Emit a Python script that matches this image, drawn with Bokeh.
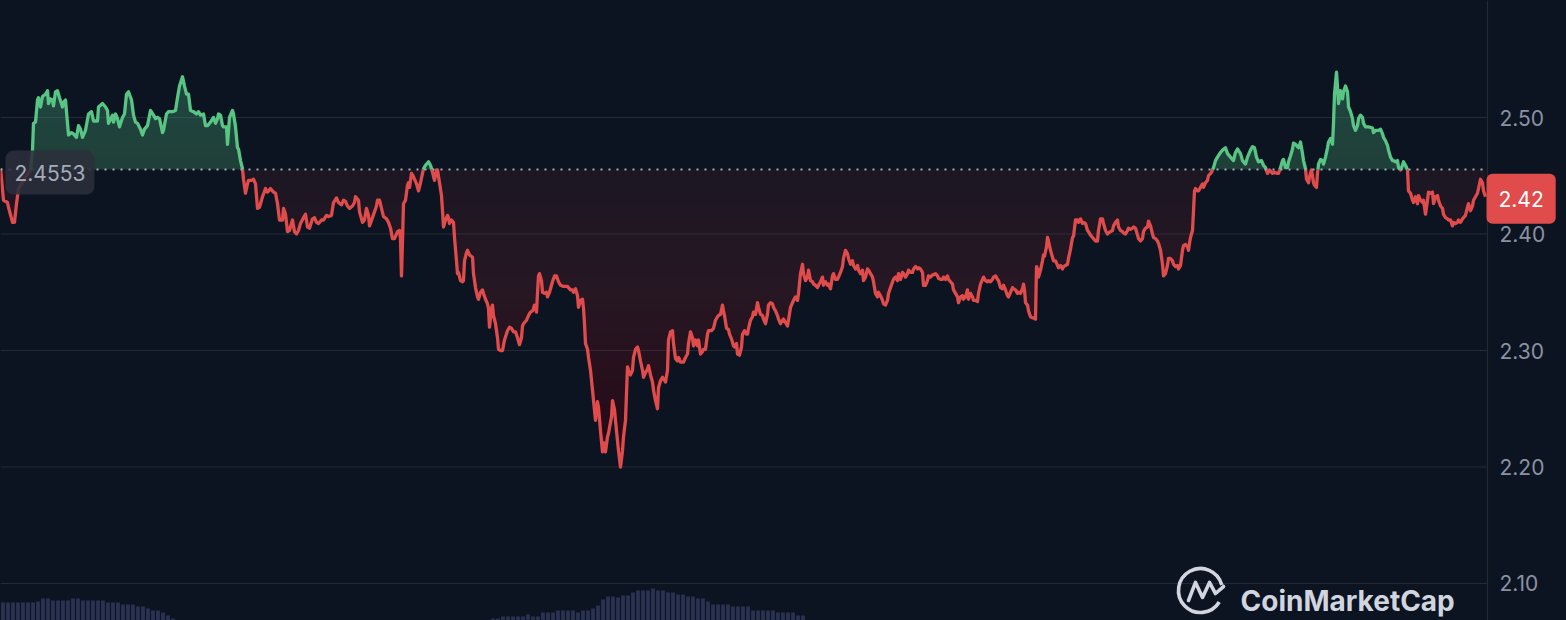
import numpy as np
from bokeh.plotting import figure
from bokeh.models import Range1d, Span, Label
from bokeh.core.properties import value
from bokeh.embed import file_html
from bokeh.resources import INLINE

# ---------------- data ----------------
BASE_PRICE = 2.4553
BASE_TEXT = "2.4553"
LAST_TEXT = "2.42"
Y_TICKS = [2.10, 2.20, 2.30, 2.40, 2.50]
BRAND = "CoinMarketCap"

TIME = [
    0, 3, 7, 8, 12, 14, 16, 18, 21, 23, 30, 32, 33, 35, 37, 38, 40, 42, 45, 47,
    48, 50, 52, 53, 55, 57, 59, 62, 63, 65, 67, 68, 71, 73, 76, 78, 80, 82, 85, 88,
    91, 93, 97, 98, 102, 105, 107, 108, 112, 113, 115, 117, 119, 122, 124, 126, 128, 131, 133, 135,
    137, 140, 142, 144, 147, 150, 153, 155, 157, 159, 162, 163, 166, 168, 172, 175, 177, 179, 182, 184,
    186, 188, 190, 193, 196, 198, 200, 203, 205, 207, 210, 213, 215, 217, 218, 220, 222, 223, 226, 227,
    229, 232, 233, 235, 237, 238, 240, 242, 243, 245, 247, 248, 251, 253, 255, 257, 259, 262, 265, 267,
    270, 273, 275, 277, 279, 282, 283, 285, 287, 289, 292, 294, 296,
    298, 300, 303, 305, 307, 309, 312, 314, 316, 318, 321, 323, 326, 328, 331, 333, 336, 338, 341, 343,
    345, 347, 349, 352, 354, 355, 358, 359, 362, 364, 366, 368, 369, 372, 374, 376, 377, 379, 381, 383,
    386, 388, 390, 392, 394, 397, 399, 400, 401, 402, 403, 405, 407, 408, 409, 411, 413, 416, 418, 420,
    422, 423, 425, 428, 430, 432, 434, 436, 437, 439, 441, 442, 443, 445, 447, 448, 449, 451, 453, 454,
    456, 457, 458, 460, 462, 463, 464, 466, 467, 469, 472, 473, 475, 477, 478, 480, 482, 483, 485, 487,
    488, 489, 491, 492, 493, 495, 497, 498, 500, 502, 504, 507, 509, 511, 513, 515, 517, 519, 521, 522,
    523, 526, 528, 530, 532, 533, 534, 536, 537, 538, 539, 541, 542, 544, 546, 547, 549, 552, 554, 556,
    558, 560, 563, 567, 568, 570, 572, 573, 575, 577, 578, 580, 582, 583, 584, 585, 587, 588, 590, 592,
    595, 597, 598, 600, 602, 603, 605, 607, 608, 611, 612, 614, 616, 618, 620, 622, 623, 625, 627, 628,
    630, 632, 633, 635, 637, 638, 640, 642, 643, 645, 647, 648, 650, 652, 653, 655, 657, 658, 660, 662,
    663, 665, 667, 668, 670, 672, 673, 675, 677, 678, 680, 683, 685, 687, 688, 690, 692, 693, 695, 697,
    698, 700, 702, 703, 705, 707, 708, 711, 713, 715, 717, 718, 720, 722, 723, 724, 726, 728, 729, 731,
    733, 734, 736, 737, 739, 741, 742, 744, 746, 747, 748, 750, 752, 753, 755, 757, 758, 760, 762, 763,
    765, 767, 768, 770, 772, 773, 775, 777, 778, 780, 782, 783, 785, 787, 788, 790, 792, 793, 795, 797,
    798, 800, 802, 803, 805, 807, 808, 810, 812, 813, 815, 817, 818, 820, 822, 823, 825, 827, 828, 830,
    832, 833, 835, 837, 838, 840, 842, 843, 845, 847, 848, 850, 852, 853, 855, 857, 858, 860, 862, 863,
    865, 867, 868, 870, 872, 873, 875, 877, 878, 880, 882, 883, 885, 887, 888, 890,
    893, 895, 897, 898, 900, 902, 903, 905, 907, 908, 910, 912, 913, 915, 917, 918, 920, 922, 923, 925,
    927, 928, 930, 932, 933, 935, 937, 938, 940, 942, 943, 945, 947, 948, 950, 952, 953, 955, 957, 958,
    960, 962, 963, 965, 967, 968, 970, 972, 973, 975, 977, 978, 980, 982, 983, 985, 987, 988, 990, 992,
    993, 995, 997, 998, 1000, 1002, 1003, 1005, 1007, 1008, 1010, 1012, 1013, 1015, 1017, 1018, 1020, 1022, 1023, 1024,
    1025, 1027, 1028, 1030, 1032, 1033, 1035, 1036, 1037, 1038, 1040, 1042, 1043, 1044, 1046, 1047, 1048, 1050, 1052, 1053,
    1055, 1057, 1058, 1060, 1062, 1063, 1065, 1067, 1068, 1070, 1072, 1073, 1075, 1077, 1078, 1080, 1082, 1083, 1085, 1087,
    1088, 1090, 1092, 1093, 1095, 1097, 1098, 1100, 1102, 1103, 1105, 1107, 1108, 1110, 1112, 1113, 1115, 1117, 1118, 1120,
    1122, 1123, 1125, 1127, 1128, 1130, 1132, 1133, 1135, 1137, 1138, 1140, 1142, 1143, 1145, 1147, 1148, 1150, 1152, 1153,
    1155, 1157, 1158, 1160, 1162, 1163, 1165, 1167, 1168, 1170, 1172, 1173, 1175, 1177, 1178, 1180, 1182, 1183, 1185, 1187,
    1188, 1189, 1190, 1192,
    1194, 1195, 1197, 1198, 1200, 1202, 1203, 1205, 1207, 1208, 1211, 1213, 1215, 1217, 1220, 1222, 1225, 1227, 1230, 1233,
    1235, 1237, 1240, 1242, 1245, 1247, 1250, 1252, 1254, 1256, 1258, 1261, 1263, 1265, 1267, 1269, 1272, 1274, 1277, 1278,
    1280, 1282, 1283, 1285, 1287, 1288, 1290, 1292, 1293, 1295, 1297, 1298, 1300, 1302, 1303, 1305, 1306, 1308, 1309, 1311,
    1313, 1314, 1316, 1317, 1318, 1320, 1322, 1323, 1325, 1327, 1328, 1330, 1332, 1333, 1334, 1336, 1337, 1338, 1340, 1342,
    1343, 1345, 1347, 1348, 1350, 1352, 1353, 1355, 1357, 1358, 1360, 1362, 1363, 1365, 1368, 1372, 1373, 1375, 1377, 1378,
    1380, 1382, 1383, 1385, 1387, 1388, 1390, 1392, 1393, 1395, 1397, 1398, 1400, 1402, 1403, 1405, 1407, 1408, 1410, 1412,
    1413, 1415, 1417, 1418, 1420, 1422, 1423, 1425, 1427, 1428, 1430, 1432, 1433, 1435, 1437, 1438, 1440, 1442, 1443, 1445,
    1447, 1448, 1450, 1452, 1453, 1455, 1457, 1458, 1460, 1462, 1463, 1465, 1467, 1468, 1470, 1472, 1473, 1475, 1477, 1478,
    1480, 1482, 1483, 1485,
]

PRICE = [
    2.456, 2.429, 2.427, 2.423, 2.410, 2.410, 2.426, 2.439, 2.443, 2.446,
    2.455, 2.472, 2.495, 2.496, 2.515, 2.517, 2.509, 2.518, 2.520, 2.523,
    2.512, 2.516, 2.515, 2.510, 2.522, 2.523, 2.517, 2.509, 2.513, 2.515,
    2.495, 2.485, 2.487, 2.486, 2.483, 2.493, 2.490, 2.483, 2.489, 2.503,
    2.505, 2.497, 2.497, 2.509, 2.512, 2.509, 2.506, 2.495, 2.502, 2.496,
    2.503, 2.499, 2.492, 2.500, 2.503, 2.520, 2.522, 2.515, 2.502, 2.496,
    2.495, 2.490, 2.485, 2.490, 2.493, 2.506, 2.502, 2.499, 2.500, 2.499,
    2.487, 2.489, 2.503, 2.505, 2.505, 2.506, 2.517, 2.527, 2.535, 2.527,
    2.520, 2.520, 2.506, 2.505, 2.503, 2.505, 2.502, 2.503, 2.493, 2.493,
    2.496, 2.500, 2.495, 2.499, 2.503, 2.502, 2.493, 2.492, 2.492, 2.477,
    2.500, 2.506, 2.503, 2.492, 2.474, 2.473, 2.463, 2.456, 2.447, 2.435,
    2.443, 2.446, 2.446, 2.447, 2.443, 2.422, 2.423, 2.432, 2.439, 2.436,
    2.439, 2.436, 2.435, 2.426, 2.412, 2.412, 2.422, 2.417, 2.402, 2.403,
    2.412, 2.402, 2.400,
    2.403, 2.409, 2.414, 2.417, 2.406, 2.405, 2.413, 2.414, 2.410, 2.409,
    2.412, 2.412, 2.416, 2.415, 2.416, 2.427, 2.431, 2.427, 2.425, 2.429,
    2.428, 2.424, 2.422, 2.424, 2.427, 2.432, 2.429, 2.419, 2.410, 2.412,
    2.422, 2.416, 2.407, 2.414, 2.419, 2.424, 2.429, 2.429, 2.422, 2.415,
    2.413, 2.410, 2.405, 2.396, 2.396, 2.402, 2.403, 2.396, 2.364, 2.394,
    2.426, 2.429, 2.442, 2.444, 2.440, 2.452, 2.449, 2.443, 2.437, 2.444,
    2.452, 2.456, 2.459, 2.462, 2.459, 2.453, 2.446, 2.455, 2.455, 2.444,
    2.433, 2.420, 2.406, 2.412, 2.416, 2.414, 2.409, 2.412, 2.410, 2.397,
    2.377, 2.366, 2.367, 2.360, 2.359, 2.360, 2.377, 2.384, 2.386, 2.382,
    2.380, 2.366, 2.354, 2.346, 2.344, 2.350, 2.352, 2.349, 2.344, 2.340,
    2.336, 2.320, 2.336, 2.339, 2.330, 2.323, 2.311, 2.301, 2.300, 2.300,
    2.309, 2.317, 2.320, 2.319, 2.316, 2.316, 2.311, 2.305, 2.311, 2.321,
    2.323, 2.326, 2.330, 2.333, 2.334, 2.336, 2.339, 2.333, 2.349, 2.364,
    2.366, 2.360, 2.350, 2.349, 2.350, 2.346, 2.350, 2.359, 2.364, 2.364,
    2.359, 2.356, 2.355, 2.355, 2.354, 2.352, 2.352, 2.350, 2.353, 2.347,
    2.337, 2.343, 2.344, 2.336, 2.323, 2.306, 2.301, 2.294, 2.283, 2.266,
    2.240, 2.256, 2.251, 2.231, 2.213, 2.221, 2.213, 2.226, 2.229, 2.243,
    2.257, 2.249, 2.231, 2.214, 2.200, 2.214, 2.226, 2.240, 2.286, 2.283,
    2.279, 2.283, 2.294, 2.301, 2.303, 2.300, 2.291, 2.283, 2.277, 2.281,
    2.284, 2.287, 2.279, 2.273, 2.266, 2.257, 2.250, 2.268, 2.274, 2.277,
    2.276, 2.273, 2.283, 2.309, 2.316, 2.317, 2.306, 2.293, 2.291, 2.294,
    2.290, 2.290, 2.294, 2.297, 2.306, 2.316, 2.311, 2.304, 2.309, 2.304,
    2.309, 2.297, 2.299, 2.301, 2.301, 2.314, 2.317, 2.317, 2.319, 2.326,
    2.329, 2.330, 2.331, 2.339, 2.334, 2.330, 2.319, 2.318, 2.314, 2.310,
    2.304, 2.303, 2.306, 2.297, 2.296, 2.303, 2.314, 2.317, 2.314, 2.314,
    2.319, 2.326, 2.329, 2.333, 2.331, 2.341, 2.337, 2.331, 2.330, 2.327,
    2.323, 2.331, 2.339, 2.341, 2.340, 2.337, 2.334, 2.330, 2.327, 2.323,
    2.326, 2.327, 2.324, 2.321, 2.326, 2.337, 2.341, 2.343, 2.346, 2.343,
    2.349, 2.366, 2.374, 2.366, 2.360, 2.363, 2.369, 2.360, 2.359, 2.357,
    2.356, 2.354, 2.356, 2.359, 2.363, 2.356, 2.359, 2.356, 2.357, 2.353,
    2.364, 2.366, 2.361, 2.361, 2.363, 2.367, 2.372, 2.379, 2.386, 2.383,
    2.379, 2.374, 2.377, 2.373, 2.370, 2.373, 2.369, 2.366, 2.369, 2.360,
    2.363, 2.370, 2.369, 2.366, 2.363, 2.359, 2.349, 2.346, 2.350, 2.347,
    2.343, 2.340, 2.339, 2.343, 2.349, 2.354,
    2.361, 2.363, 2.360, 2.366, 2.361, 2.367, 2.366, 2.363, 2.366, 2.369,
    2.367, 2.367, 2.370, 2.372, 2.370, 2.371, 2.370, 2.367, 2.356, 2.356,
    2.360, 2.364, 2.363, 2.365, 2.365, 2.366, 2.364, 2.362, 2.361, 2.361,
    2.363, 2.361, 2.364, 2.361, 2.359, 2.357, 2.352, 2.349, 2.346, 2.341,
    2.346, 2.347, 2.344, 2.346, 2.352, 2.344, 2.349, 2.346, 2.343, 2.343,
    2.342, 2.349, 2.357, 2.361, 2.363, 2.360, 2.359, 2.360, 2.359, 2.361,
    2.363, 2.364, 2.361, 2.360, 2.354, 2.353, 2.356, 2.352, 2.347, 2.346,
    2.350, 2.354, 2.353, 2.352, 2.349, 2.350, 2.349, 2.353, 2.357, 2.352,
    2.341, 2.339, 2.334, 2.329, 2.328, 2.328, 2.327, 2.372, 2.370, 2.363,
    2.369, 2.377, 2.382, 2.381, 2.389, 2.397, 2.394, 2.386, 2.380, 2.377,
    2.377, 2.373, 2.371, 2.373, 2.370, 2.372, 2.373, 2.374, 2.379, 2.387,
    2.397, 2.398, 2.412, 2.412, 2.410, 2.413, 2.409, 2.410, 2.409, 2.403,
    2.402, 2.399, 2.397, 2.396, 2.394, 2.394, 2.403, 2.413, 2.413, 2.409,
    2.403, 2.400, 2.401, 2.402, 2.403, 2.407, 2.410, 2.412, 2.406, 2.403,
    2.402, 2.401, 2.400, 2.403, 2.405, 2.404, 2.405, 2.406, 2.405, 2.399,
    2.396, 2.394, 2.396, 2.402, 2.405, 2.406, 2.411, 2.407, 2.400, 2.397,
    2.396, 2.394, 2.392, 2.386, 2.374, 2.364, 2.366, 2.373, 2.379, 2.379,
    2.377, 2.374, 2.372, 2.373, 2.370, 2.373, 2.386, 2.390, 2.391, 2.389,
    2.386, 2.392, 2.397, 2.403,
    2.437, 2.439, 2.437, 2.437, 2.440, 2.443, 2.440, 2.444, 2.446, 2.450,
    2.453, 2.457, 2.463, 2.466, 2.470, 2.472, 2.474, 2.469, 2.466, 2.463,
    2.470, 2.473, 2.469, 2.463, 2.460, 2.466, 2.472, 2.475, 2.474, 2.466,
    2.462, 2.463, 2.459, 2.457, 2.452, 2.455, 2.452, 2.453, 2.452, 2.452,
    2.457, 2.463, 2.464, 2.457, 2.457, 2.462, 2.467, 2.473, 2.478, 2.477,
    2.475, 2.474, 2.479, 2.469, 2.463, 2.456, 2.447, 2.444, 2.449, 2.455,
    2.444, 2.442, 2.440, 2.452, 2.460, 2.464, 2.463, 2.460, 2.466, 2.474,
    2.479, 2.482, 2.477, 2.495, 2.520, 2.539, 2.526, 2.512, 2.523, 2.516,
    2.522, 2.527, 2.522, 2.509, 2.505, 2.499, 2.493, 2.489, 2.493, 2.499,
    2.502, 2.500, 2.495, 2.492, 2.492, 2.491, 2.487, 2.489, 2.489, 2.489,
    2.490, 2.486, 2.483, 2.480, 2.476, 2.472, 2.466, 2.463, 2.463, 2.462,
    2.463, 2.457, 2.455, 2.459, 2.462, 2.459, 2.455, 2.437, 2.435, 2.429,
    2.427, 2.432, 2.426, 2.433, 2.429, 2.427, 2.429, 2.417, 2.429, 2.436,
    2.435, 2.436, 2.426, 2.432, 2.433, 2.429, 2.424, 2.422, 2.417, 2.414,
    2.413, 2.412, 2.412, 2.407, 2.410, 2.409, 2.410, 2.412, 2.410, 2.413,
    2.414, 2.416, 2.423, 2.426, 2.420, 2.424, 2.429, 2.432, 2.435, 2.439,
    2.447, 2.444, 2.437, 2.432,
]

VOL_TIME = [
    2.5, 7.5, 12.5, 17.5, 22.5, 27.5, 32.5, 37.5, 42.5, 47.5,
    52.5, 57.5, 62.5, 67.5, 72.5, 77.5, 82.5, 87.5, 92.5, 97.5,
    102.5, 107.5, 112.5, 117.5, 122.5, 127.5, 132.5, 137.5, 142.5, 147.5,
    152.5, 157.5, 162.5, 167.5, 172.5,
    492.5, 497.5, 502.5, 507.5, 512.5, 517.5, 522.5, 527.5, 532.5, 537.5,
    542.5, 547.5, 552.5, 557.5, 562.5, 567.5, 572.5, 577.5, 582.5, 587.5,
    592.5, 597.5, 602.5, 607.5, 612.5, 617.5, 622.5, 627.5, 632.5, 637.5,
    642.5, 647.5, 652.5, 657.5, 662.5, 667.5, 672.5, 677.5, 682.5, 687.5,
    692.5, 697.5, 702.5, 707.5, 712.5, 717.5, 722.5, 727.5, 732.5, 737.5,
    742.5, 747.5, 752.5, 757.5, 762.5, 767.5, 772.5, 777.5, 782.5, 787.5,
    792.5, 797.5, 802.5,
]
VOLUME = [
    23, 23, 23, 23, 23, 23, 23, 24, 27, 27,
    25, 25, 25, 25, 27, 27, 25, 25, 25, 25,
    25, 23, 23, 23, 21, 21, 21, 19, 19, 17,
    15, 15, 13, 10, 7,
    7, 7, 9, 9, 9, 9, 9, 11, 9, 9,
    13, 13, 13, 15, 15, 15, 15, 13, 15, 15,
    17, 20, 26, 29, 29, 28, 30, 30, 33, 35,
    35, 35, 37, 35, 35, 33, 33, 31, 31, 29,
    29, 27, 27, 24, 21, 21, 21, 21, 19, 19,
    19, 19, 15, 15, 15, 15, 15, 13, 13, 13,
    13, 10, 10,
]

# ---------------- styles / layout ----------------
BG = "#0d1421"
GRID = "#242935"
UP = "#58c585"
DOWN = "#e04b4b"
TXT = "#8a91a3"
VOLC = "#2a3251"
LOGO = "#d0d5df"
FONT = "Inter"
PLOT_END = 1487          # time position of the price-scale separator
LABEL_GAP = 12

# split the line where it crosses the opening price
t = np.array(TIME, dtype=float)
y = np.array(PRICE, dtype=float)
xs, ys = [t[0]], [y[0]]
for i in range(1, len(t)):
    a, b = y[i - 1] - BASE_PRICE, y[i] - BASE_PRICE
    if a * b < 0:
        f = a / (a - b)
        xs.append(t[i - 1] + f * (t[i] - t[i - 1]))
        ys.append(BASE_PRICE)
    xs.append(t[i])
    ys.append(y[i])
xs = np.array(xs)
ys = np.array(ys)

p = figure(width=1566, height=620, output_backend="svg", toolbar_location=None,
           x_range=Range1d(0, 1566), y_range=Range1d(2.06824, 2.60043),
           x_axis_location=None, y_axis_location=None,
           background_fill_color=BG, border_fill_color=BG,
           min_border_left=0, min_border_right=0, min_border_top=0, min_border_bottom=0)
p.outline_line_color = None
p.xgrid.visible = False
p.ygrid.visible = False

# horizontal price grid and the separator of the price scale
p.segment(x0=0, x1=PLOT_END, y0=Y_TICKS, y1=Y_TICKS, line_color=GRID, line_width=1.2)
p.add_layout(Span(location=PLOT_END, dimension="height", line_color=GRID, line_width=1.2))

# volume bars
p.extra_y_ranges = {"vol": Range1d(5, 625)}
p.vbar(x=VOL_TIME, top=VOLUME, bottom=0, width=3.8, y_range_name="vol",
       fill_color=VOLC, line_color=None)

# gradient-like fills (stacked translucent layers)
p.varea(x=xs, y1=BASE_PRICE, y2=np.maximum(ys, BASE_PRICE), fill_color=UP, fill_alpha=0.25)
for k in range(1, 6):
    lvl = BASE_PRICE + 0.01 * k
    p.varea(x=xs, y1=lvl, y2=np.maximum(ys, lvl), fill_color=UP, fill_alpha=0.012)

p.varea(x=xs, y1=np.minimum(ys, BASE_PRICE), y2=BASE_PRICE, fill_color=DOWN, fill_alpha=0.07)
for k in range(1, 26):
    lvl = BASE_PRICE - 0.01 * k
    a = 0.006 if k <= 10 else 0.0025
    p.varea(x=xs, y1=np.minimum(ys, lvl), y2=lvl, fill_color=DOWN, fill_alpha=a)

# price line
red = np.where(ys <= BASE_PRICE, ys, np.nan)
green = np.where(ys >= BASE_PRICE, ys, np.nan)
p.line(xs, red, line_color=DOWN, line_width=3.3, line_join="round")
p.line(xs, green, line_color=UP, line_width=3.3, line_join="round")

# opening-price dotted line (stops at the price scale)
p.segment(x0=[0], x1=[PLOT_END], y0=[BASE_PRICE], y1=[BASE_PRICE],
          line_color="#a3a9b6", line_width=2, line_dash="2 6")

# price scale labels
p.text(x=[PLOT_END + LABEL_GAP] * len(Y_TICKS), y=Y_TICKS,
       text=["%.2f" % v for v in Y_TICKS], text_font=value(FONT),
       text_font_size=value("21px"), text_color=TXT,
       text_align="left", text_baseline="middle")

# watermark
p.arc(x=[1200], y=[2.0940], radius=22, radius_units="screen",
      start_angle=0.25, end_angle=-0.55, direction="anticlock",
      line_color=LOGO, line_width=3.6)
p.line(x=[1188, 1195, 1202, 1209, 1215, 1223],
       y=[2.0854, 2.1009, 2.0880, 2.1009, 2.0914, 2.0974],
       line_color=LOGO, line_width=3.6, line_join="round", line_cap="round")
p.add_layout(Label(x=1240, y=2.0848, text=BRAND, text_font=FONT, text_font_size="28px",
                   text_font_style="bold", text_color=LOGO, text_baseline="alphabetic"))

# opening price tag  (padding = (horizontal, vertical))
p.add_layout(Label(x=5, y=BASE_PRICE, y_offset=-3, text=BASE_TEXT, text_font=FONT,
                   text_font_size="21px", text_color="#a5abb8", text_align="left",
                   text_baseline="middle", background_fill_color="#2b2f3b",
                   background_fill_alpha=0.88, padding=(9, 14), border_radius=8))

# last price tag
p.add_layout(Label(x=PLOT_END - 1, y=PRICE[-1], y_offset=-2, text=LAST_TEXT, text_font=FONT,
                   text_font_size="21px", text_color="#ffffff", text_align="left",
                   text_baseline="middle", background_fill_color=DOWN,
                   padding=(12, 17), border_radius=6))

html = file_html(p, INLINE, title="Price chart")
html = html.replace("</head>", "<style>html,body{background:%s;}</style></head>" % BG, 1)
open("out.html", "w").write(html)
